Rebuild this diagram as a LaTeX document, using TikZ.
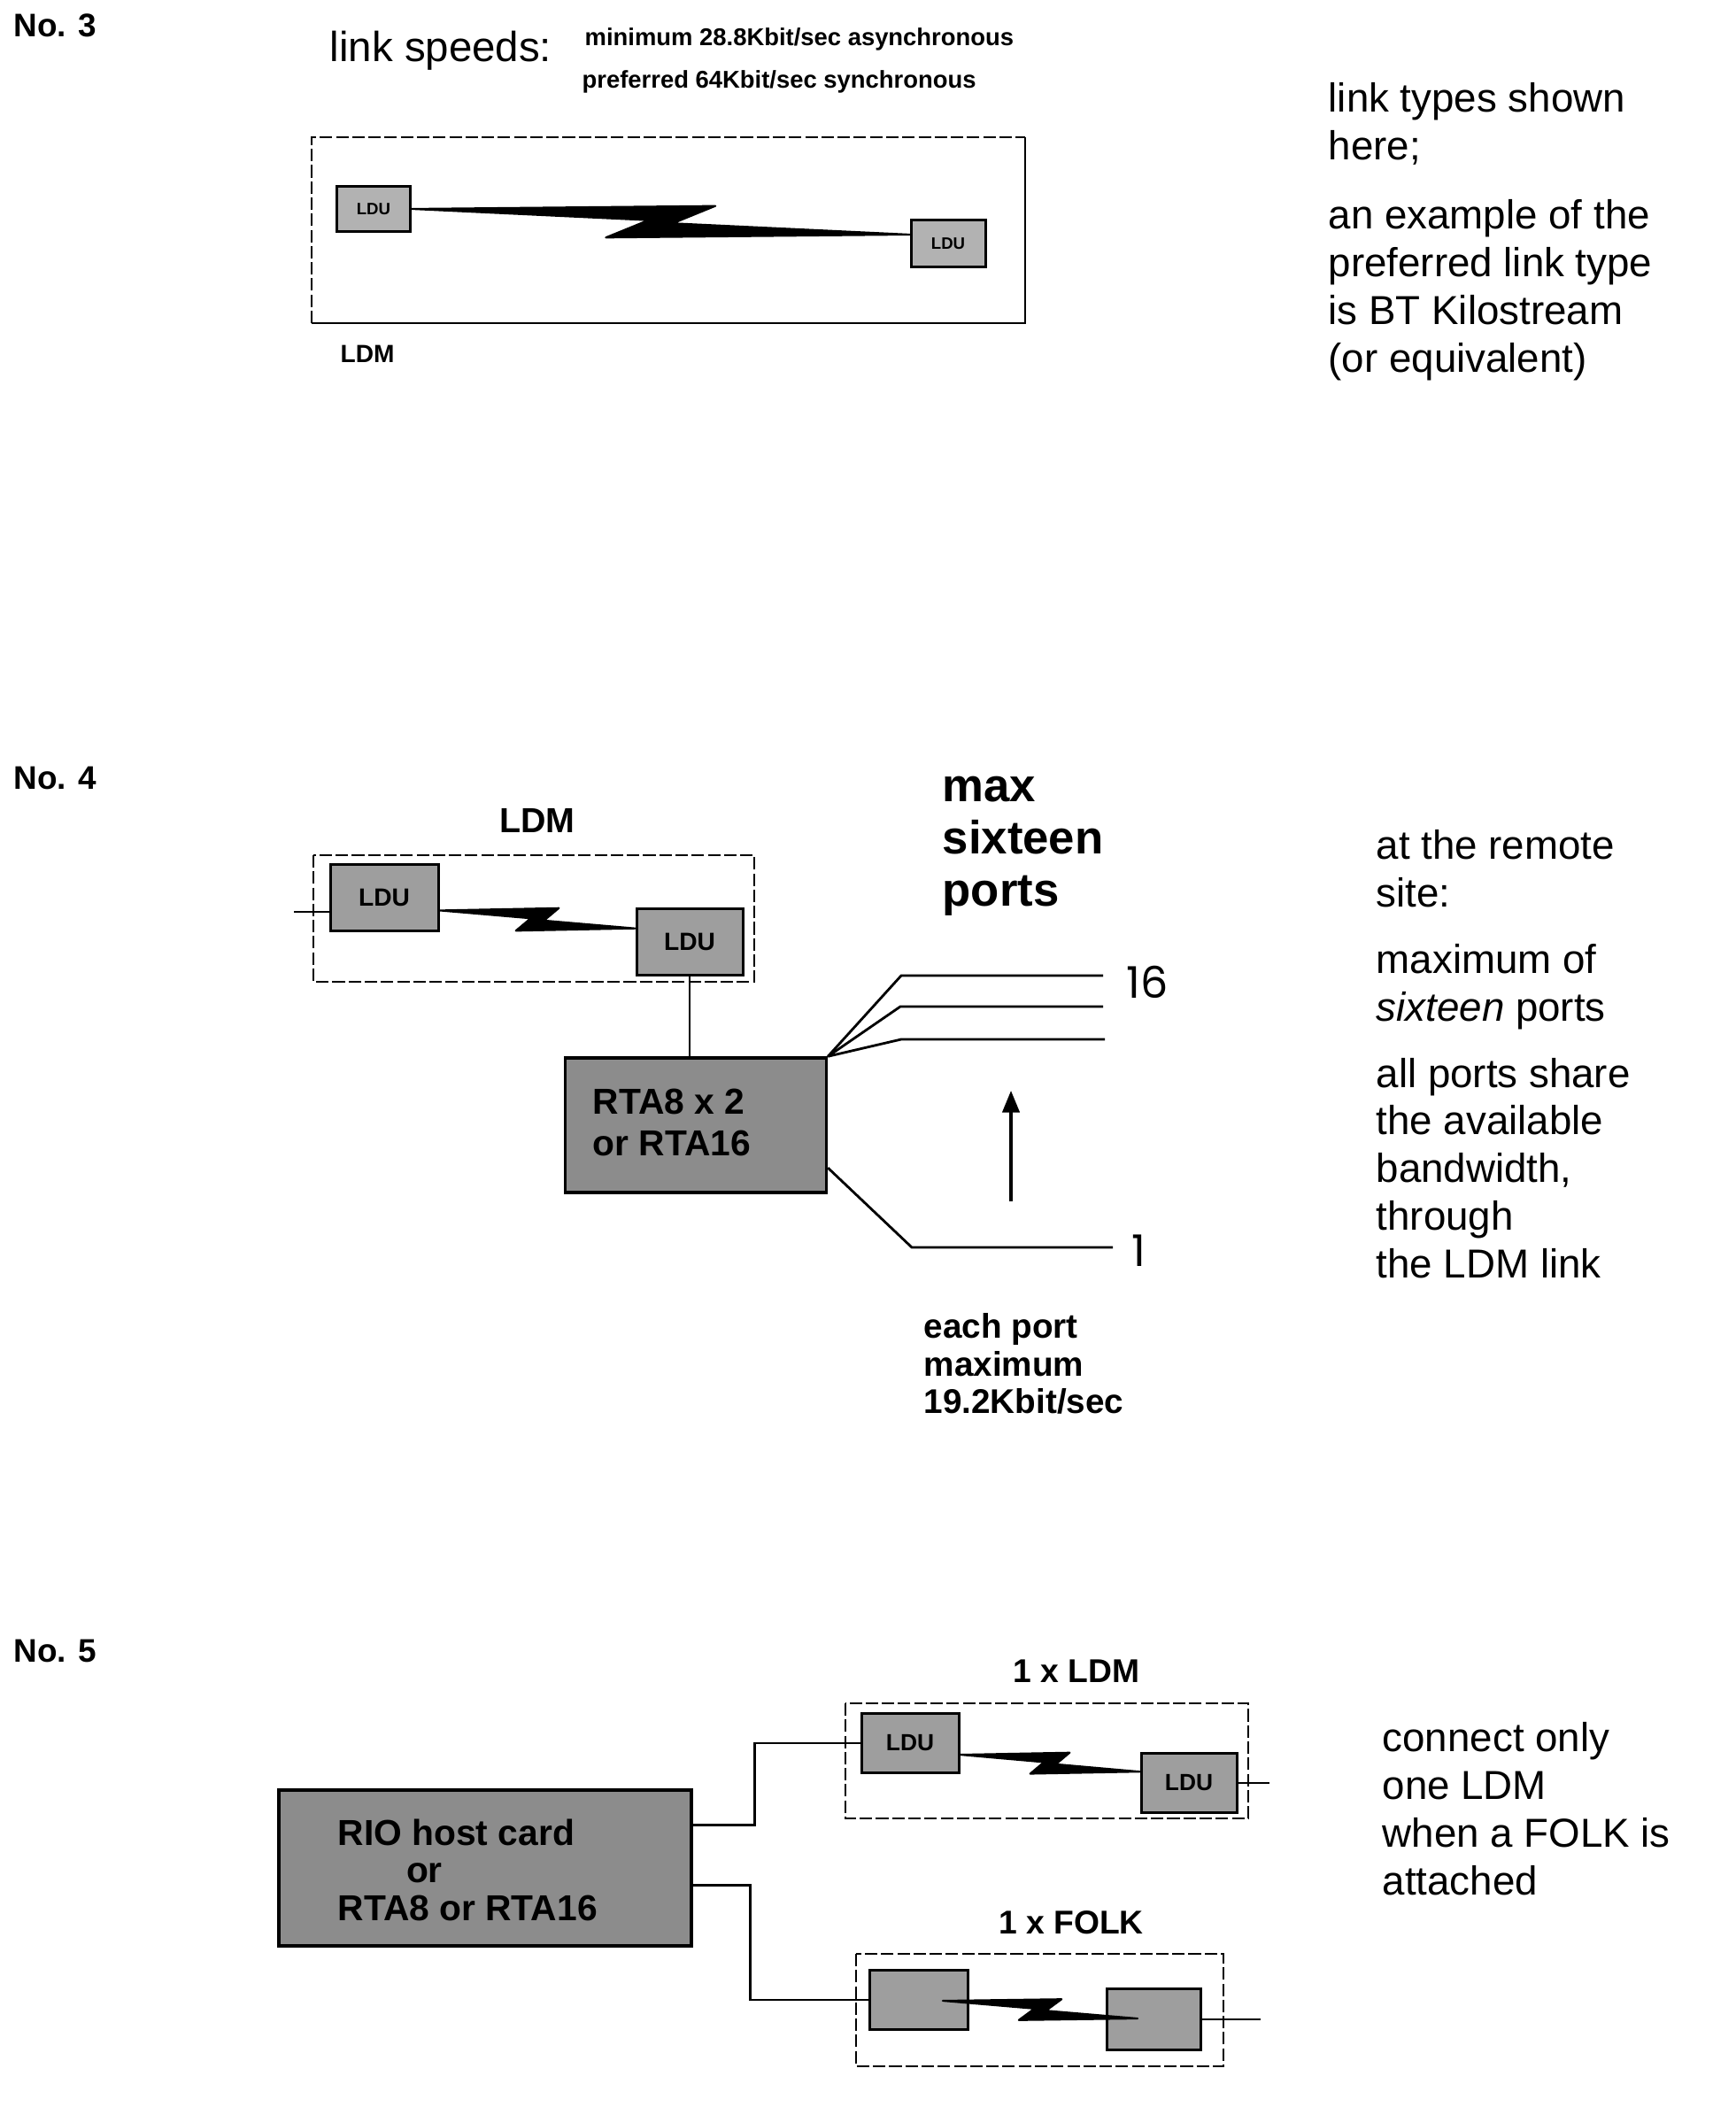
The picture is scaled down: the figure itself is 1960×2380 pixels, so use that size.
\documentclass[tikz,border=0pt]{standalone}
\usepackage{fontspec}
\setmainfont{Liberation Sans}
\newfontfamily\geofont{Poppins}
\usetikzlibrary{calc,arrows.meta}
\tikzset{>={Triangle[length=7pt,width=5.5pt]}}

\tikzset{
  ldu/.style={draw,line width=.85pt,fill=black!38,inner sep=0pt,font=\bfseries\fontsize{8}{8}\selectfont},
  card/.style={draw,line width=1pt,fill=black!45,inner sep=0pt},
  cardtext/.style={inner sep=0pt,font=\bfseries\fontsize{11.6}{13}\selectfont},
  ldmbox/.style={line width=.6pt,dash pattern=on 4pt off 1.2pt},
  wire/.style={line width=.8pt},
  boltfill/.style={fill,draw,line width=.6pt,line join=round},
  note/.style={anchor=north west,inner sep=0pt,align=left,font=\fontsize{13}{15.3}\selectfont},
  title/.style={anchor=base west,inner sep=0pt,font=\bfseries\fontsize{10.5}{12}\selectfont},
  caption/.style={anchor=base,inner sep=0pt,font=\bfseries\fontsize{10.6}{12}\selectfont},
}

% lightning link between two points: ends, tip height, diagonal half width
\newcommand{\zbolt}[4]{%
  \coordinate (zT) at ($(#1)!.61!(#2)+(0,-#3)$);
  \coordinate (zS) at ($(#1)!.39!(#2)+(0,#3)$);
  \filldraw[boltfill] (#1) -- (zT) -- ($(zT)!.55!(zS)+(#4,0)$) -- (#2)
    -- (zS) -- ($(zT)!.45!(zS)-(#4,0)$) -- cycle;
}

\begin{document}
\begin{tikzpicture}[x=.1mm,y=-.1mm]
\useasboundingbox (0,0) rectangle (1960,2380);

% No. 3
\node[title] (n3) at (15,42) {No. 3};
\node[anchor=base west,inner sep=0pt,font=\fontsize{13.5}{14}\selectfont] (speeds) at (372,70) {link speeds:};
\node[anchor=base west,inner sep=0pt,font=\bfseries\fontsize{7.8}{8}\selectfont] (minspd) at (660,52) {minimum 28.8Kbit/sec asynchronous};
\node[anchor=base west,inner sep=0pt,font=\bfseries\fontsize{7.8}{8}\selectfont] (prefspd) at (657,100) {preferred 64Kbit/sec synchronous};
\draw[ldmbox] (352,365) -- (352,155) -- (1158,155);
\draw[line width=.6pt] (1158,155) -- (1158,365) -- (352,365);
\node[ldu,fill=black!30,minimum width=8.3mm,minimum height=5.1mm,font=\bfseries\fontsize{5.3}{6}\selectfont] (ldu3a) at (422,236) {LDU};
\node[ldu,fill=black!30,minimum width=8.4mm,minimum height=5.3mm,font=\bfseries\fontsize{5.3}{6}\selectfont] (ldu3b) at (1071,275) {LDU};
\zbolt{ldu3a.east}{ldu3b.167}{21}{20}
\node[anchor=base west,inner sep=0pt,font=\bfseries\fontsize{8}{8}\selectfont] (ldm3) at (384,410) {LDM};
\node[note] (types) at (1500,93) {link types shown\\here;\\[7pt]an example of the\\preferred link type\\is BT Kilostream\\(or equivalent)};

% No. 4
\node[title] (n4) at (15,891) {No. 4};
\node[caption,font=\bfseries\fontsize{11.2}{12}\selectfont] (ldm4) at (607,940) {LDM};
\draw[ldmbox] (354,966) rectangle (852,1109);
\node[ldu,minimum width=12.2mm,minimum height=7.5mm] (ldu4a) at (434,1014) {LDU};
\node[ldu,minimum width=12mm,minimum height=7.5mm] (ldu4b) at (779,1064) {LDU};
\zbolt{ldu4a.-13}{ldu4b.166}{15}{10}
\coordinate (in4) at (332,1030);
\draw[wire] (in4) -- (in4 -| ldu4a.west);
\node[card,minimum width=29.5mm,minimum height=15.2mm] (rta) at (786,1271) {};
\node[cardtext,anchor=west,align=left,font=\bfseries\fontsize{11.6}{13.4}\selectfont] (rtatext) at (669,1268) {RTA8 x 2\\or RTA16};
\draw[wire] (ldu4b.south) -- (ldu4b.south |- rta.north);
\coordinate (k16) at (1018,1102); \coordinate (p16) at (1246,1102);
\coordinate (k15) at (1017,1137); \coordinate (p15) at (1246,1137);
\coordinate (k14) at (1018,1174); \coordinate (p14) at (1248,1174);
\coordinate (k1) at (1030,1409); \coordinate (p1) at (1257,1409);
\foreach \k/\p in {k16/p16,k15/p15,k14/p14}
  \draw[wire] (rta.north east) -- (\k) -- (\p);
\draw[wire] ($(rta.north east)!.81!(rta.south east)$) -- (k1) -- (p1);
\node[anchor=base west,inner sep=0pt,font=\geofont\fontsize{14}{14}\selectfont] (l16) at (1272,1127) {16};
\node[anchor=base west,inner sep=0pt,font=\geofont\fontsize{14}{14}\selectfont] (l1) at (1278,1430) {1};
\coordinate (up0) at (1142,1357);
\coordinate (up1) at (1142,1232);
\draw[->,line width=.9pt] (up0) -- (up1);
\node[note,font=\bfseries\fontsize{15}{16.8}\selectfont] (maxports) at (1064,876) {max\\sixteen\\ports};
\node[note,font=\bfseries\fontsize{11}{12.1}\selectfont] (eachport) at (1043,1483) {each port\\maximum\\19.2Kbit/sec};
\node[note] (remote) at (1554,937) {at the remote\\site:\\[6pt]maximum of\\\textit{sixteen} ports\\[6pt]all ports share\\the available\\bandwidth,\\through\\the LDM link};

% No. 5
\node[title] (n5) at (15,1877) {No. 5};
\node[card,minimum width=46.6mm,minimum height=17.6mm] (rio) at (548,2110) {};
\node[cardtext,anchor=west,align=left,font=\bfseries\fontsize{11.6}{12.1}\selectfont] (riotext) at (381,2112) {RIO host card\\\hspace*{22pt}or\\RTA8 or RTA16};
\node[caption] (ldmcap) at (1216,1900) {1 x LDM};
\draw[ldmbox] (955,1924) rectangle (1410,2054);
\node[ldu,minimum width=11mm,minimum height=6.7mm,font=\bfseries\fontsize{7.5}{8}\selectfont] (ldu5a) at (1028,1969) {LDU};
\node[ldu,minimum width=10.8mm,minimum height=6.7mm,font=\bfseries\fontsize{7.5}{8}\selectfont] (ldu5b) at (1343,2014) {LDU};
\zbolt{ldu5a.-13}{ldu5b.167}{14}{9}
\draw[wire] (ldu5b.east) -- ++(35,0);
\draw[wire] ($(rio.north east)!.23!(rio.south east)$) -- ++(70,0) |- (ldu5a.west);
\node[caption] (folkcap) at (1210,2184) {1 x FOLK};
\draw[ldmbox] (967,2207) rectangle (1382,2334);
\node[ldu,minimum width=11.1mm,minimum height=6.7mm] (folka) at (1038,2259) {};
\node[ldu,minimum width=10.6mm,minimum height=6.9mm] (folkb) at (1303,2281) {};
\coordinate (fa) at ($(folka.center)+(27,1)$);
\coordinate (fb) at ($(folkb.center)+(-18,-1)$);
\zbolt{fa}{fb}{14}{9}
\draw[wire] (folkb.east) -- ++(66,0);
\draw[wire] ($(rio.north east)!.61!(rio.south east)$) -- ++(65,0) |- (folka.west);
\node[note] (folknote) at (1561,1945) {connect only\\one LDM\\when a FOLK is\\attached};
\end{tikzpicture}
\end{document}
